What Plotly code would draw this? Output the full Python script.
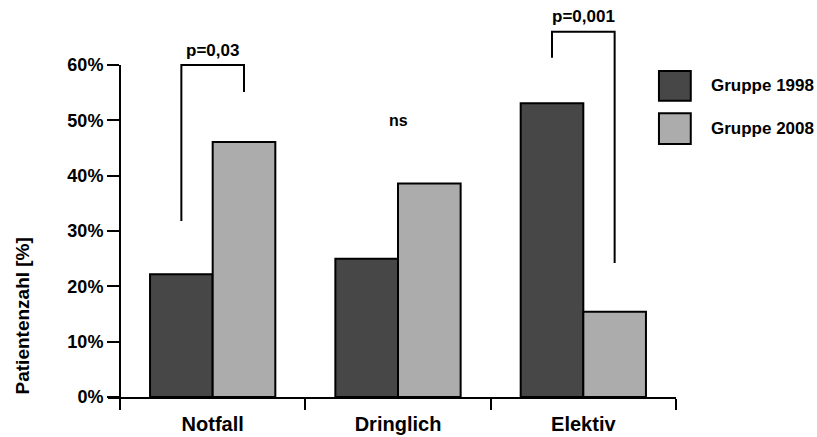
import plotly.graph_objects as go

categories = ["Notfall", "Dringlich", "Elektiv"]
series_names = ["Gruppe 1998", "Gruppe 2008"]
values_1998 = [22.2, 25.0, 53.1]
values_2008 = [46.1, 38.6, 15.4]
y_tickvals = [0, 10, 20, 30, 40, 50, 60]
y_ticktext = ["0%", "10%", "20%", "30%", "40%", "50%", "60%"]
y_title = "Patientenzahl [%]"
# significance brackets: category index, label, top %, gaps above each bar, label height %
sig_cat = [0, 2]
sig_labels = ["p=0,03", "p=0,001"]
sig_top = [60.0, 66.0]
sig_left_gap = [9.6, 8.2]
sig_right_gap = [9.0, 8.8]
sig_label_y = [62.6, 68.8]
ns_label = "ns"
ns_cat = 1
ns_y = 50.0

colors = ["#474747", "#acacac"]
FONT = "Liberation Sans, Arial, sans-serif"
YMAX = 60.0
BARGAP = 0.324
bar_w = (1 - BARGAP) / 2  # per bar in category units

fig = go.Figure()
for name, vals, col in zip(series_names, [values_1998, values_2008], colors):
    fig.add_trace(go.Bar(
        x=categories, y=vals, name=name, showlegend=False, cliponaxis=False,
        marker=dict(color=col, line=dict(color="black", width=2)),
    ))

shapes = []
annotations = []
all_vals = [values_1998, values_2008]
LW = 2
for ci, lab, top, lg, rg, ly in zip(sig_cat, sig_labels, sig_top, sig_left_gap, sig_right_gap, sig_label_y):
    xl = ci - bar_w / 2
    xr = ci + bar_w / 2
    yl = (all_vals[0][ci] + lg) / YMAX
    yr = (all_vals[1][ci] + rg) / YMAX
    yt = top / YMAX
    shapes.append(dict(type="path", xref="x", yref="paper",
                       path=f"M {xl},{yl} L {xl},{yt} L {xr},{yt} L {xr},{yr}",
                       line=dict(color="black", width=LW)))
    annotations.append(dict(x=ci, y=ly / YMAX, xref="x", yref="paper", text=f"<b>{lab}</b>",
                            showarrow=False, font=dict(family=FONT, size=17, color="black"),
                            xanchor="center", yanchor="middle"))
annotations.append(dict(x=ns_cat, y=ns_y / YMAX, xref="x", yref="paper", text=f"<b>{ns_label}</b>",
                        showarrow=False, font=dict(family=FONT, size=16, color="black"),
                        xanchor="center", yanchor="middle"))

# custom legend
leg_boxes = [(0.970, 1.026, 0.892, 0.982), (0.970, 1.026, 0.762, 0.855)]
for (x0, x1, y0, y1), name, col in zip(leg_boxes, series_names, colors):
    shapes.append(dict(type="rect", xref="paper", yref="paper", x0=x0, x1=x1, y0=y0, y1=y1,
                       fillcolor=col, line=dict(color="black", width=2)))
    annotations.append(dict(x=1.058, y=(y0 + y1) / 2, xref="paper", yref="paper", text=f"<b>{name}</b>",
                            showarrow=False, font=dict(family=FONT, size=17, color="black"),
                            xanchor="left", yanchor="middle"))

annotations.append(dict(x=-0.150, y=0.245, xref="paper", yref="paper", text=f"<b>{y_title}</b>",
                        textangle=-90, showarrow=False, font=dict(family=FONT, size=19, color="black"),
                        xanchor="center", yanchor="middle"))

fig.update_layout(
    width=817, height=437,
    margin=dict(l=108, r=141, t=65, b=40, pad=0),
    plot_bgcolor="white", paper_bgcolor="white",
    barmode="group", bargap=BARGAP, bargroupgap=0,
    shapes=shapes, annotations=annotations,
    font=dict(family=FONT, color="black"),
    xaxis=dict(type="category", range=[-0.5 - 12 / 185, 2.5001], tickson="boundaries",
               ticks="outside", ticklen=11, tickwidth=2, tickcolor="black",
               showline=True, linecolor="black", linewidth=2, showgrid=False,
               ticklabelstandoff=8, automargin=False,
               tickfont=dict(family=FONT, size=20, color="black"),
               tickprefix="<b>", ticksuffix="</b>"),
    yaxis=dict(range=[0, YMAX], tickvals=y_tickvals, ticktext=[f"<b>{t}</b>" for t in y_ticktext],
               anchor="free", position=12 / 568, ticks="outside", ticklen=12, tickwidth=2,
               tickcolor="black", showline=True, linecolor="black", linewidth=2,
               showgrid=False, zeroline=False, automargin=False,
               tickfont=dict(family=FONT, size=18, color="black")),
)

fig.write_html("out.html", config={"displayModeBar": False},
               post_script="document.body.style.margin='0';document.body.style.overflow='hidden';")
